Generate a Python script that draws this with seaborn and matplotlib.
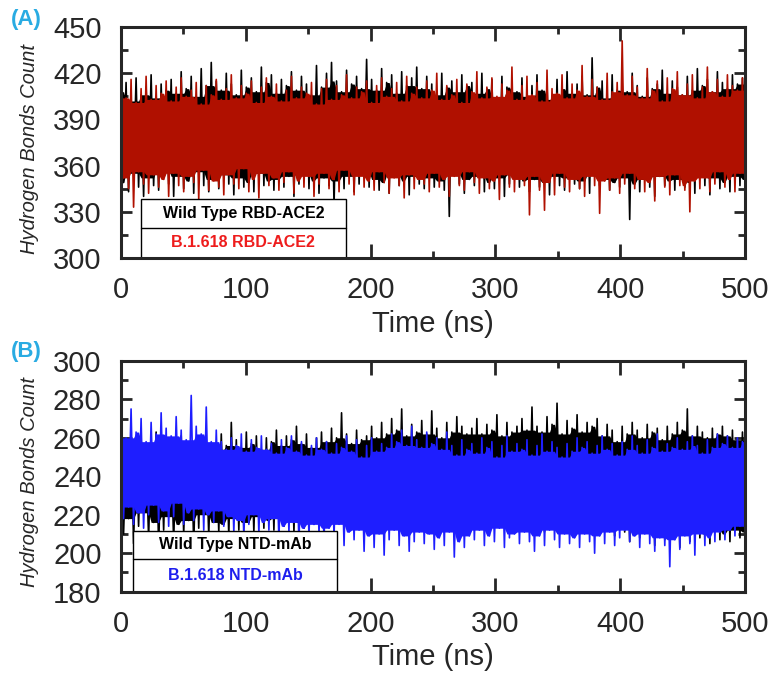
import numpy as np
import pandas as pd
import matplotlib
matplotlib.use("Agg")
import matplotlib.pyplot as plt
from matplotlib.patches import Rectangle
from matplotlib.ticker import MultipleLocator
import seaborn as sns

# time grid (ns): 250 frames over 0-500 ns, peaks and troughs alternate
time_ns = np.linspace(0, 500, 250)

# Panel A - RBD-ACE2, upper / lower excursions
wt_rbd_hi = [408, 414, 402, 417, 406, 411, 419, 404, 413, 409,
             416, 407, 421, 410, 418, 405, 423, 412, 427, 415,
             409, 420, 413, 406, 422, 411, 417, 408, 424, 414,
             419, 407, 416, 412, 421, 409, 418, 413, 406, 425,
             411, 420, 427, 415, 408, 422, 413, 418, 410, 429,
             416, 409, 423, 414, 419, 407, 421, 412, 417, 424,
             410, 418, 413, 406, 420, 411, 415, 408, 419, 412,
             414, 407, 420, 410, 416, 404, 418, 411, 413, 408,
             417, 405, 412, 419, 409, 414, 403, 416, 410, 421,
             407, 413, 418, 406, 430, 411, 415, 404, 419, 409,
             414, 408, 420, 412, 405, 417, 410, 413, 422, 407,
             415, 411, 406, 418, 409, 423, 412, 416, 408, 421,
             414, 410, 419, 413, 417]
wt_rbd_lo = [349, 343, 355, 346, 340, 352, 347, 344, 357, 348,
             340, 353, 345, 350, 342, 356, 347, 343, 351, 345,
             354, 348, 341, 352, 346, 349, 343, 355, 347, 350,
             344, 351, 346, 353, 340, 348, 355, 345, 350, 342,
             352, 347, 334, 350, 345, 353, 343, 348, 356, 346,
             351, 344, 349, 342, 354, 347, 350, 341, 353, 348,
             345, 352, 346, 350, 344, 327, 355, 348, 342, 351,
             347, 353, 343, 349, 345, 352, 340, 348, 354, 346,
             350, 343, 351, 346, 349, 341, 353, 347, 344, 352,
             348, 345, 350, 342, 354, 347, 351, 344, 349, 346,
             352, 325, 348, 343, 351, 346, 340, 353, 347, 350,
             344, 351, 346, 349, 342, 354, 347, 341, 352, 345,
             349, 343, 353, 347, 351]
mut_rbd_hi = [413, 404, 416, 401, 410, 418, 403, 412, 407, 415,
              402, 411, 417, 405, 409, 414, 400, 412, 406, 416,
              403, 410, 419, 404, 412, 407, 415, 401, 411, 417,
              405, 413, 402, 409, 418, 404, 411, 407, 414, 400,
              410, 416, 403, 412, 406, 419, 404, 411, 408, 415,
              401, 412, 417, 405, 410, 414, 402, 418, 407, 411,
              404, 415, 409, 420, 403, 412, 406, 416, 401, 413,
              408, 421, 404, 411, 417, 405, 413, 409, 424, 403,
              412, 418, 406, 414, 402, 422, 410, 407, 419, 404,
              413, 409, 425, 405, 416, 411, 403, 420, 408, 414,
              441, 406, 418, 411, 404, 423, 409, 415, 402, 417,
              410, 421, 406, 413, 419, 404, 411, 424, 408, 416,
              405, 419, 412, 409, 417]
mut_rbd_lo = [352, 345, 333, 356, 348, 342, 354, 346, 351, 340,
              355, 347, 343, 353, 349, 338, 357, 344, 350, 346,
              341, 354, 348, 345, 358, 343, 351, 339, 355, 347,
              352, 344, 349, 356, 342, 350, 346, 353, 340, 348,
              355, 345, 351, 343, 357, 348, 341, 353, 346, 350,
              344, 356, 349, 342, 352, 347, 339, 354, 345, 351,
              348, 343, 355, 346, 351, 340, 353, 347, 344, 356,
              349, 342, 352, 345, 350, 338, 354, 346, 343, 351,
              347, 328, 353, 344, 331, 349, 341, 355, 346, 343,
              351, 345, 340, 353, 347, 329, 350, 344, 352, 342,
              348, 355, 345, 351, 343, 349, 337, 353, 346, 341,
              354, 347, 344, 330, 350, 345, 352, 343, 348, 356,
              346, 351, 343, 355, 349]

# Panel B - NTD-mAb
wt_ntd_hi = [258, 252, 262, 255, 260, 250, 257, 263, 254, 259,
             251, 256, 261, 253, 258, 255, 260, 252, 257, 254,
             262, 256, 268, 259, 255, 263, 257, 261, 254, 260,
             258, 264, 256, 261, 259, 266, 257, 262, 255, 260,
             263, 258, 265, 260, 273, 262, 257, 264, 259, 261,
             266, 260, 268, 262, 270, 264, 275, 261, 267, 263,
             269, 262, 274, 265, 260, 268, 263, 271, 266, 262,
             265, 270, 262, 267, 264, 272, 261, 268, 263, 266,
             270, 264, 276, 266, 263, 271, 267, 278, 262, 269,
             265, 272, 263, 268, 266, 270, 261, 267, 264, 258,
             266, 262, 268, 264, 260, 267, 263, 265, 259, 266,
             262, 268, 264, 275, 261, 266, 263, 260, 265, 262,
             266, 261, 264, 259, 263]
wt_ntd_lo = [210, 218, 205, 214, 221, 208, 216, 203, 212, 219,
             206, 215, 210, 217, 204, 213, 220, 209, 216, 211,
             215, 209, 218, 212, 214, 216, 211, 219, 213, 217,
             212, 218, 214, 220, 211, 216, 213, 219, 215, 217,
             214, 219, 212, 217, 215, 221, 213, 218, 216, 220,
             215, 219, 213, 218, 216, 221, 214, 217, 220, 215,
             218, 214, 220, 216, 213, 219, 215, 221, 217, 214,
             219, 215, 218, 213, 220, 216, 214, 219, 217, 212,
             216, 220, 214, 218, 211, 217, 215, 219, 213, 216,
             214, 218, 212, 216, 210, 215, 213, 217, 209, 214,
             211, 206, 213, 208, 215, 210, 204, 212, 207, 214,
             209, 203, 211, 206, 213, 208, 210, 205, 212, 207,
             210, 206, 212, 208, 211]
mut_ntd_hi = [266, 260, 275, 263, 270, 258, 268, 262, 273, 265,
              261, 271, 264, 259, 282, 266, 262, 276, 258, 264,
              258, 254, 260, 256, 262, 253, 259, 255, 261, 254,
              257, 252, 259, 255, 261, 253, 258, 251, 256, 260,
              254, 258, 252, 257, 255, 261, 253, 259, 250, 256,
              260, 253, 257, 255, 262, 258, 264, 256, 266, 259,
              255, 263, 257, 260, 254, 263, 256, 251, 259, 254,
              257, 252, 260, 255, 258, 250, 256, 261, 253, 257,
              254, 259, 251, 256, 262, 253, 258, 255, 250, 257,
              253, 260, 255, 258, 252, 256, 261, 254, 257, 251,
              258, 254, 261, 256, 252, 259, 255, 262, 253, 257,
              255, 260, 254, 258, 261, 256, 252, 259, 255, 262,
              257, 261, 255, 260, 258]
mut_ntd_lo = [218, 224, 215, 221, 213, 220, 225, 216, 222, 214,
              219, 226, 215, 221, 217, 223, 212, 220, 216, 222,
              214, 219, 211, 217, 208, 215, 220, 210, 216, 212,
              218, 207, 214, 211, 216, 205, 213, 209, 215, 210,
              206, 213, 209, 215, 204, 211, 207, 212, 201, 209,
              203, 210, 199, 207, 212, 204, 209, 201, 206, 211,
              205, 210, 202, 208, 204, 211, 198, 206, 203, 209,
              207, 212, 204, 209, 206, 213, 203, 208, 210, 205,
              211, 206, 201, 209, 204, 212, 207, 203, 210, 205,
              208, 203, 210, 206, 200, 209, 205, 211, 204, 208,
              212, 206, 209, 203, 210, 205, 201, 208, 204, 193,
              207, 202, 209, 205, 199, 210, 204, 208, 206, 211,
              207, 212, 209, 214, 210]


def draw_trace(ax, hi, lo, color, z):
    # peaks and troughs alternate along the time axis
    y = np.column_stack([hi, lo]).ravel()
    # the dense part of the trajectory: region every frame sweeps through
    core_top = pd.Series(hi).rolling(3, center=True, min_periods=1).min()
    core_bot = pd.Series(lo).rolling(3, center=True, min_periods=1).max()
    ax.fill_between(time_ns, np.repeat(core_bot, 2), np.repeat(core_top, 2),
                    color=color, lw=0, zorder=z)
    sns.lineplot(x=time_ns, y=y, ax=ax, color=color, lw=1.2, estimator=None,
                 zorder=z + 0.5)


sns.set_style("ticks")
plt.rcParams['font.family'] = ['Liberation Sans', 'DejaVu Sans']

fig = plt.figure(figsize=(7.76, 6.77), dpi=100)
ax_a = fig.add_axes([0.156, 0.619, 0.804, 0.341])
ax_b = fig.add_axes([0.156, 0.126, 0.804, 0.341])

panels = [
    (ax_a, (wt_rbd_hi, wt_rbd_lo), (mut_rbd_hi, mut_rbd_lo), '#b01000',
     (300, 450), 30, 15, 'Wild Type RBD-ACE2', 'B.1.618 RBD-ACE2', '#ee1c1c',
     (0.032, 0.36, 0.255, 0.13), '(A)', 20),
    (ax_b, (wt_ntd_hi, wt_ntd_lo), (mut_ntd_hi, mut_ntd_lo), '#1e1eff',
     (180, 300), 20, 10, 'Wild Type NTD-mAb', 'B.1.618 NTD-mAb', '#1e1eee',
     (0.019, 0.346, 0.264, 0.143), '(B)', 351),
]

for (ax, wt, mut, col, ylim, ymaj, ymin, lab1, lab2, labcol,
     box, letter, ypix) in panels:
    draw_trace(ax, wt[0], wt[1], 'black', 1)
    draw_trace(ax, mut[0], mut[1], col, 2)
    ax.set_xlim(0, 500)
    ax.set_ylim(*ylim)
    ax.xaxis.set_major_locator(MultipleLocator(100))
    ax.xaxis.set_minor_locator(MultipleLocator(50))
    ax.yaxis.set_major_locator(MultipleLocator(ymaj))
    ax.yaxis.set_minor_locator(MultipleLocator(ymin))
    ax.tick_params(axis='both', which='both', direction='in', width=2,
                   top=True, right=True, labelsize=21)
    ax.tick_params(axis='x', which='major', length=10, pad=13)
    ax.tick_params(axis='y', which='major', length=8, pad=14)
    ax.tick_params(axis='x', which='minor', length=5)
    ax.tick_params(axis='y', which='minor', length=5)
    for sp in ax.spines.values():
        sp.set_linewidth(2.2)
        sp.set_zorder(10)
    ax.set_xlabel('Time (ns)', fontsize=21, labelpad=4)
    ax.set_ylabel('')

    # legend drawn as a small two-row table
    x0, x1, top, mid = box
    ax.add_patch(Rectangle((x0, 0), x1 - x0, top, transform=ax.transAxes,
                           facecolor='white', edgecolor='black', lw=1, zorder=5))
    ax.plot([x0, x1], [mid, mid], transform=ax.transAxes, color='black', lw=1, zorder=6)
    xc = (x0 + x1) / 2
    ax.text(xc, (top + mid) / 2, lab1, transform=ax.transAxes, ha='center', va='center',
            fontsize=11.5, fontweight='bold', color='black', zorder=7)
    ax.text(xc, mid / 2, lab2, transform=ax.transAxes, ha='center', va='center',
            fontsize=11.5, fontweight='bold', color=labcol, zorder=7)

    # panel letter and y-axis title
    fig.text(26 / 776, 1 - ypix / 677, letter, ha='center', va='center',
             fontsize=16, fontweight='bold', color='#29abe2')
    pos = ax.get_position()
    fig.text(30 / 776, pos.y0 + pos.height / 2 - 6 / 677, 'Hydrogen Bonds Count',
             rotation=90, ha='center', va='center', fontsize=14.5, style='italic')

fig.savefig('out.png', dpi=100)
